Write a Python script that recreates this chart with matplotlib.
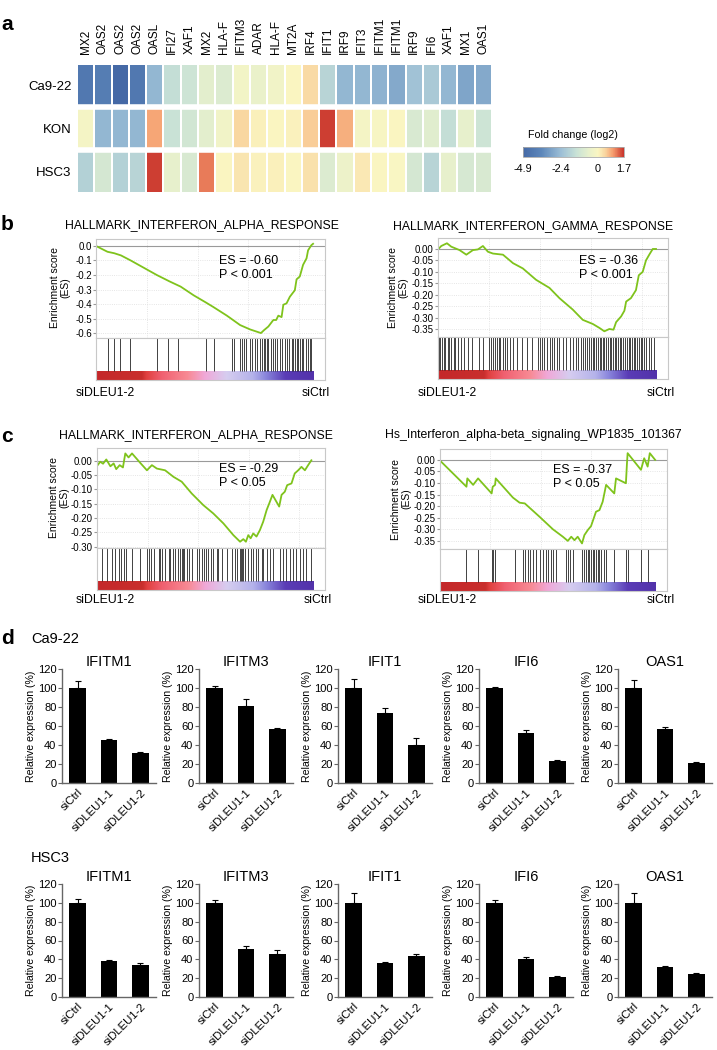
import numpy as np
import matplotlib
matplotlib.use("Agg")
import matplotlib.pyplot as plt
from matplotlib.colors import LinearSegmentedColormap, Normalize
from matplotlib.ticker import FormatStrFormatter

plt.rcParams['font.family'] = ['Liberation Sans', 'DejaVu Sans']
plt.rcParams['axes.unicode_minus'] = False

W, H = 717, 1050

# --- a: heatmap data (log2 fold change) ---
genes = ["MX2", "OAS2", "OAS2", "OAS2", "OASL", "IFI27", "XAF1", "MX2", "HLA-F",
         "IFITM3", "ADAR", "HLA-F", "MT2A", "IRF4", "IFIT1", "IRF9", "IFIT3",
         "IFITM1", "IFITM1", "IRF9", "IFI6", "XAF1", "MX1", "OAS1"]
cells = ["Ca9-22", "KON", "HSC3"]
fc_ca922 = [-4.3, -4.1, -4.9, -4.3, -2.6, -1.5, -1.3, -0.7, -0.9, -0.25, -0.5, -0.3,
            0.0, 0.4, -1.8, -2.6, -2.6, -2.7, -2.9, -2.3, -2.1, -2.6, -3.0, -2.9]
fc_kon = [-0.2, -2.6, -2.6, -2.6, 0.9, -1.4, -1.2, -0.7, -0.3, 0.45, 0.1, 0.0,
          0.05, 0.55, 1.6, 0.8, -0.2, -0.1, 0.0, -1.0, -0.8, -1.5, -0.6, -1.3]
fc_hsc3 = [-1.9, -1.1, -1.9, -1.8, 1.6, -0.6, -1.0, 1.2, 0.0, 0.25, 0.05, 0.1,
           0.0, 0.3, -0.9, -0.4, 0.2, 0.0, -0.05, -1.1, -1.8, -0.6, -1.05, -1.0]
fc_min, fc_max = -4.9, 1.7
fc_ticks = [-4.9, -2.4, 0, 1.7]

# --- b/c: GSEA running enrichment scores (x = % of ranked list) ---
b_alpha_x = [0, 5.3, 8.4, 11.5, 16, 22, 28, 34, 39, 45, 50.7, 54, 60.3, 66.4, 71, 74, 76,
             77.4, 79.4, 81.7, 83, 84, 85.5, 86.3, 87.8, 89.3, 91.6, 92.4, 93.9, 95.4,
             97, 97.7, 99.2, 100]
b_alpha_y = [0.0, -0.04, -0.05, -0.065, -0.10, -0.15, -0.20, -0.245, -0.28, -0.34, -0.39,
             -0.42, -0.48, -0.545, -0.575, -0.59, -0.60, -0.58, -0.555, -0.51, -0.51,
             -0.48, -0.49, -0.405, -0.395, -0.35, -0.305, -0.23, -0.21, -0.13, -0.085,
             -0.03, 0.005, 0.015]
b_alpha_hits = [5.3, 8.1, 11.1, 15.7, 28.2, 33.1, 37.7, 50.7, 54.2, 62.6, 63.4, 66.4, 67.2,
                68.4, 69.2, 71.0, 71.8, 73.3, 74.0, 75.6, 76.3, 77.4, 78.0, 78.6, 79.4,
                80.5, 81.7, 82.4, 83.2, 84.7, 85.5, 87.0, 87.8, 89.0, 90.1, 90.8, 91.6,
                92.4, 93.1, 93.9, 94.7, 95.4, 96.6, 97.7, 98.5, 99.2]

b_gamma_x = [0, 0.5, 1.5, 4.1, 6.1, 9.9, 13, 16, 18.3, 20.6, 22.9, 25.2, 29.8, 34.4, 38.9,
             45, 51.1, 55.7, 61.8, 66.4, 71, 74, 76.3, 78.6, 80.5, 81.7, 84, 85.5, 86.3,
             88.5, 90.8, 92.1, 93.9, 95.4, 96.9, 98.5, 100]
b_gamma_y = [0, 0.003, 0.013, 0.025, 0.01, -0.005, -0.025, -0.005, -0.002, 0.013, -0.012,
             -0.02, -0.025, -0.062, -0.085, -0.135, -0.17, -0.215, -0.265, -0.31, -0.328,
             -0.345, -0.36, -0.35, -0.353, -0.32, -0.295, -0.27, -0.23, -0.215, -0.18,
             -0.115, -0.1, -0.05, -0.025, 0.0, 0.0]
b_gamma_hits = [0.4, 1.1, 1.8, 2.6, 3.3, 4.4, 5.2, 6.1, 7.3, 8.0, 9.4, 10.6, 11.9, 13.8,
                15.6, 18.9, 20.8, 23.4, 24.5, 25.3, 26.1, 26.9, 27.8, 28.6, 29.7, 30.6,
                31.8, 33.2, 34.6, 36.2, 38.5, 41.0, 43.2, 45.9, 46.8, 47.6, 48.7, 49.8,
                51.2, 52.4, 53.1, 54.6, 55.5, 57.3, 58.6, 60.4, 61.7, 63.2, 64.4, 65.5,
                66.3, 67.6, 68.4, 69.1, 70.2, 70.9, 71.5, 72.6, 73.3, 74.1, 74.6, 75.5,
                76.2, 77.1, 77.8, 78.9, 79.5, 80.3, 81.1, 81.8, 82.7, 83.4, 84.1, 85.0,
                85.7, 86.5, 87.4, 88.0, 88.9, 89.7, 90.4, 91.3, 92.0, 92.9, 93.8, 94.6,
                95.5, 96.8, 97.9, 99.0]

c_alpha_x = [0.3, 1.5, 2.8, 4.3, 6.2, 7.7, 8.9, 10.5, 12, 13.1, 14.6, 16.2, 20, 23.1, 25.4,
             27.7, 31.5, 35.4, 39.2, 43.8, 49.2, 53.8, 58.5, 63.1, 66.2, 67.7, 68.9, 70,
             71.1, 72.3, 73.8, 75.4, 76.9, 78.5, 79.7, 81.2, 84.3, 85.4, 86.9, 88, 90,
             91.5, 93.1, 94.6, 96.2, 97.7, 99.2]
c_alpha_y = [-0.015, -0.003, -0.01, 0.005, -0.019, -0.009, -0.029, -0.015, -0.023, 0.026,
             0.012, 0.026, -0.007, -0.033, -0.015, -0.027, -0.033, -0.056, -0.073, -0.114,
             -0.155, -0.184, -0.219, -0.26, -0.283, -0.274, -0.283, -0.26, -0.271, -0.254,
             -0.265, -0.242, -0.213, -0.172, -0.149, -0.119, -0.16, -0.119, -0.108, -0.085,
             -0.079, -0.044, -0.033, -0.021, -0.033, -0.015, 0.002]
c_alpha_hits = [2.3, 4.6, 6.9, 8.5, 10.0, 11.1, 12.6, 13.5, 16.2, 20.0, 23.1, 24.2, 24.9,
                26.2, 28.5, 29.2, 30.3, 31.5, 33.1, 33.8, 35.1, 36.2, 37.7, 38.5, 39.2,
                39.7, 40.3, 41.5, 42.8, 43.8, 46.2, 47.4, 48.5, 49.5, 50.5, 51.5, 52.6,
                53.8, 55.4, 56.2, 57.7, 60.0, 62.3, 63.8, 64.9, 66.2, 66.5, 66.9, 67.4,
                68.5, 70.0, 71.1, 72.3, 73.5, 74.6, 76.2, 76.9, 78.5, 80.0, 81.5, 84.6,
                86.2, 87.4, 89.2, 90.8, 92.3, 93.8, 95.4, 96.9, 99.2]

c_ab_x = [0, 12.3, 12.7, 15.4, 17.7, 24, 24.5, 25.6, 25.9, 33.9, 37, 39.4, 46.3, 52.5,
          57.1, 59.4, 61, 62.5, 64, 66, 67.1, 68.7, 70.2, 72.5, 74.1, 75.6, 77.2, 81,
          81.8, 86.4, 86.9, 87.2, 93.4, 94.9, 96.5, 97.5, 100]
c_ab_y = [-0.003, -0.116, -0.08, -0.108, -0.08, -0.145, -0.116, -0.108, -0.08, -0.163,
          -0.185, -0.188, -0.246, -0.3, -0.332, -0.35, -0.332, -0.347, -0.332, -0.361,
          -0.325, -0.303, -0.286, -0.224, -0.217, -0.181, -0.108, -0.145, -0.08, -0.101,
          -0.014, 0.029, -0.043, 0.007, -0.029, 0.029, 0.0]
c_ab_hits = [12.3, 17.7, 24.0, 24.8, 25.5, 34.7, 38.6, 39.7, 40.9, 41.7, 43.2, 44.8, 46.3,
             47.8, 49.4, 50.2, 51.7, 52.5, 54.0, 58.6, 59.4, 60.5, 61.7, 66.0, 67.1, 67.9,
             68.7, 69.4, 70.2, 71.0, 71.8, 72.5, 73.3, 74.1, 74.8, 76.4, 77.2, 81.0, 86.4,
             87.2, 93.4, 96.5]

# --- d: qPCR relative expression (%) ---
conds = ["siCtrl", "siDLEU1-1", "siDLEU1-2"]
qpcr_genes = ["IFITM1", "IFITM3", "IFIT1", "IFI6", "OAS1"]
ca922_mean = [[100, 45, 32], [100, 81, 56.5], [100, 74, 40], [100, 53, 23], [100, 57, 21.5]]
ca922_err = [[7.5, 1, 1], [2.5, 7, 1.5], [10, 5, 7.5], [1.5, 3, 1], [8, 2, 0.8]]
hsc3_mean = [[100, 38, 34.5], [100, 51.5, 45.5], [100, 36, 44], [100, 40.5, 21], [100, 32, 24.5]]
hsc3_err = [[4, 1, 2], [3, 3, 4], [10, 0.8, 1.5], [3.5, 2, 1.5], [10, 1, 1.5]]

fc_cmap = LinearSegmentedColormap.from_list('fc', [
    ((v - fc_min) / (fc_max - fc_min), c) for v, c in [
        (-4.9, '#4569a6'), (-3.7, '#5d87ba'), (-2.4, '#9dbfd6'), (-1.4, '#c9e2d6'),
        (-0.6, '#e7f0cc'), (0.0, '#faf6c2'), (0.5, '#f9d49e'), (1.0, '#f59a6c'),
        (1.7, '#c8332b')]])
fc_norm = Normalize(fc_min, fc_max)

rank_cmap = LinearSegmentedColormap.from_list('rank', [
    (0, '#c4282a'), (0.21, '#c92f2d'), (0.23, '#e0403f'), (0.3, '#f06070'),
    (0.42, '#f88a94'), (0.5, '#f0a8d8'), (0.6, '#d6cdf0'), (0.72, '#b4b2ea'),
    (0.78, '#8a86dc'), (0.87, '#5a3cb6'), (1, '#5232aa')])


def box(x0, y0, x1, y1):
    return [x0 / W, 1 - y1 / H, (x1 - x0) / W, (y1 - y0) / H]


def ftext(x, y, s, **kw):
    fig.text(x / W, 1 - y / H, s, **kw)


fig = plt.figure(figsize=(W / 100, H / 100), dpi=100)

# panel letters
for lab, y in [('a', 25), ('b', 225), ('c', 436), ('d', 639)]:
    ftext(1, y, lab, fontsize=15, fontweight='bold', va='center')

# ---------------- a ----------------
hm = np.array([fc_ca922, fc_kon, fc_hsc3])
ax = fig.add_axes(box(77, 64, 492, 193))
ax.pcolormesh(np.arange(len(genes) + 1), np.arange(len(cells) + 1), hm,
              cmap=fc_cmap, norm=fc_norm, edgecolors='white', linewidth=1.3)
for yy in (1, 2):
    ax.axhline(yy, color='white', lw=4)
ax.set_xlim(0, len(genes))
ax.set_ylim(len(cells), 0)
ax.set_xticks(np.arange(len(genes)) + 0.5, genes, rotation=90, fontsize=8.5)
ax.xaxis.tick_top()
ax.set_yticks(np.arange(len(cells)) + 0.5, cells, fontsize=9.5)
ax.tick_params(length=0)
ax.tick_params(axis='x', pad=7)
ax.tick_params(axis='y', pad=4)
for s in ax.spines.values():
    s.set_visible(False)

cax = fig.add_axes(box(523, 147, 624, 157))
sm = plt.cm.ScalarMappable(norm=fc_norm, cmap=fc_cmap)
cb = fig.colorbar(sm, cax=cax, orientation='horizontal', ticks=fc_ticks)
cb.ax.set_xticklabels([str(t) for t in fc_ticks])
cb.ax.tick_params(length=0, labelsize=7.8, pad=5)
cb.outline.set_edgecolor('#aaaaaa')
cb.outline.set_linewidth(0.6)
ftext(528, 135, 'Fold change (log2)', fontsize=7.7, va='center')


# ---------------- b / c ----------------
def gsea(x0, x1, y0, y1, y2, es_x, es_y, hits, ylim, yticks, fmt):
    ax = fig.add_axes(box(x0, y0, x1, y1))
    ax.axhline(0, color='#9a9a9a', lw=0.8)
    ax.plot(es_x, es_y, color='#7fc31c', lw=1.3)
    ax.set_xlim(0, 105.5)
    ax.set_ylim(*ylim)
    ax.set_yticks(yticks)
    ax.yaxis.set_major_formatter(FormatStrFormatter(fmt))
    ax.set_xticks([23.4, 46.8, 70.2, 93.6])
    ax.tick_params(axis='x', length=0, labelbottom=False)
    ax.tick_params(axis='y', length=2, pad=1, labelsize=7, color='#999999')
    ax.grid(color='#dddddd', lw=0.6, ls=':')
    for s in ax.spines.values():
        s.set_color('#c8c8c8')
        s.set_linewidth(0.8)

    hx = fig.add_axes(box(x0, y1, x1, y2))
    hx.imshow(np.linspace(0, 1, 256)[None, :], extent=[0, 100, 0, 0.21],
              aspect='auto', cmap=rank_cmap)
    hx.vlines(hits, 0.21, 1, color='#222222', lw=0.6)
    hx.set_xlim(0, 105.5)
    hx.set_ylim(0, 1)
    hx.set_xticks([])
    hx.set_yticks([])
    for s in hx.spines.values():
        s.set_color('#c8c8c8')
        s.set_linewidth(0.8)


gsea(96, 325, 239, 338, 380, b_alpha_x, b_alpha_y, b_alpha_hits,
     (-0.634, 0.048), [0, -0.1, -0.2, -0.3, -0.4, -0.5, -0.6], '%.1f')
gsea(438, 668, 238, 337, 379, b_gamma_x, b_gamma_y, b_gamma_hits,
     (-0.385, 0.048), [0, -0.05, -0.1, -0.15, -0.2, -0.25, -0.3, -0.35], '%.2f')
gsea(97, 325, 448, 548, 590, c_alpha_x, c_alpha_y, c_alpha_hits,
     (-0.305, 0.045), [0, -0.05, -0.1, -0.15, -0.2, -0.25, -0.3], '%.2f')
gsea(440, 667, 449, 549, 591, c_ab_x, c_ab_y, c_ab_hits,
     (-0.385, 0.047), [0, -0.05, -0.1, -0.15, -0.2, -0.25, -0.3, -0.35], '%.2f')

for cx, cy, t in [(202, 225, 'HALLMARK_INTERFERON_ALPHA_RESPONSE'),
                  (533, 226, 'HALLMARK_INTERFERON_GAMMA_RESPONSE'),
                  (196, 435, 'HALLMARK_INTERFERON_ALPHA_RESPONSE'),
                  (533, 435, 'Hs_Interferon_alpha-beta_signaling_WP1835_101367')]:
    ftext(cx, cy, t, fontsize=8.8, ha='center', va='center')

for lx, ly, t in [(219, 268, 'ES = -0.60\nP < 0.001'), (579, 268, 'ES = -0.36\nP < 0.001'),
                  (219, 476, 'ES = -0.29\nP < 0.05'), (553, 477, 'ES = -0.37\nP < 0.05')]:
    ftext(lx, ly, t, fontsize=9, va='center', linespacing=1.2)

for yx, yy in [(60, 288), (398, 288), (59, 498), (401, 499)]:
    ftext(yx, yy, 'Enrichment score\n(ES)', fontsize=7.5, rotation=90,
          ha='center', va='center', multialignment='center', linespacing=1.0)

for lx, rx, ly in [(76, 330, 393), (418, 675, 393), (76, 332, 600), (418, 675, 600)]:
    ftext(lx, ly, 'siDLEU1-2', fontsize=8.8, va='center')
    ftext(rx, ly, 'siCtrl', fontsize=8.8, va='center', ha='right')

# ---------------- d ----------------
ftext(31, 639, 'Ca9-22', fontsize=10.5, va='center')
ftext(31, 858, 'HSC3', fontsize=10.5, va='center')

lefts = [62, 199, 338, 479, 618]
for means_all, errs_all, top, bot in [(ca922_mean, ca922_err, 669, 783),
                                      (hsc3_mean, hsc3_err, 884, 997)]:
    for i, g in enumerate(qpcr_genes):
        ax = fig.add_axes(box(lefts[i], top, lefts[i] + 94, bot))
        ax.bar(range(3), means_all[i], width=0.54, color='black',
               yerr=[[0, 0, 0], errs_all[i]],
               error_kw=dict(ecolor='black', elinewidth=0.8, capsize=2.5, capthick=0.8))
        ax.set_xlim(-0.5, 2.5)
        ax.set_ylim(0, 120)
        ax.set_yticks([0, 20, 40, 60, 80, 100, 120])
        ax.set_xticks(range(3))
        ax.set_xticklabels(conds, rotation=45, ha='right', rotation_mode='anchor',
                           fontsize=8.2)
        ax.tick_params(axis='x', length=0, pad=3)
        ax.tick_params(axis='y', length=3, labelsize=8, pad=1, color='#666666')
        ax.set_ylabel('Relative expression (%)', fontsize=7.6, labelpad=1)
        ax.set_title(g, fontsize=10.5, pad=1)
        for s in ('top', 'right'):
            ax.spines[s].set_visible(False)
        for s in ('left', 'bottom'):
            ax.spines[s].set_color('#666666')
            ax.spines[s].set_linewidth(1.0)

fig.savefig('out.png', dpi=100)
